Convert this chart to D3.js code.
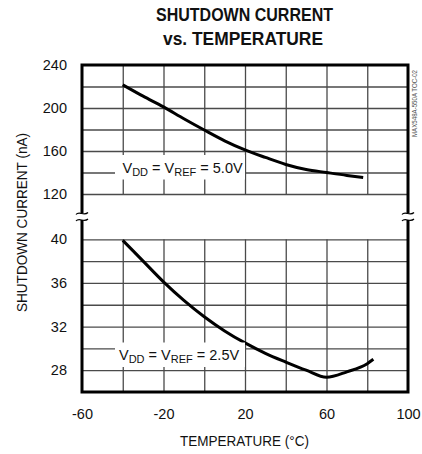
<!DOCTYPE html>
<html>
<head>
<meta charset="utf-8">
<script src="https://cdn.jsdelivr.net/npm/d3@7"></script>
<style>
  html, body { margin: 0; padding: 0; background: #fff; }
  svg text { font-family: Arial, "Liberation Sans", Helvetica, sans-serif; fill: #111; }
</style>
</head>
<body>
<div id="chart"></div>
<script>
// Shutdown current vs. temperature, two supply settings on a broken y axis
const temps5V = [-40, -30, -20, -10, 0, 10, 20, 30, 40, 50, 60, 70, 78]
const current5V = [221.6, 211, 201, 190, 179.5, 169.5, 161, 154, 147.5, 142.8, 140, 137.3, 135.4]

const temps25V = [-40, -30, -20, -10, 0, 10, 20, 30, 40, 50, 60, 70, 80, 83]
const current25V = [39.9, 38.0, 36.1, 34.4, 32.9, 31.6, 30.5, 29.55, 28.75, 28.0, 27.35, 27.85, 28.6, 29.0]

const xTicks = [-60, -20, 20, 60, 100]
const xGrid = [-40, -20, 0, 20, 40, 60, 80]
const topTicks = [120, 160, 200, 240]
const topGrid = [120, 140, 160, 180, 200, 220]
const bottomTicks = [28, 32, 36, 40]
const bottomGrid = [28, 30, 32, 34, 36, 38, 40]

const W = 422, H = 454
const plotLeft = 82, plotRight = 408
const plotTop = 65, topEnd = 194
const bottomStart = 239.3, plotBottom = 392

const svg = d3.select("#chart").append("svg")
  .attr("width", W)
  .attr("height", H)

const x = d3.scaleLinear().domain([-60, 100]).range([plotLeft, plotRight])
const yTop = d3.scaleLinear().domain([120, 240]).range([topEnd, plotTop])
const yBot = d3.scaleLinear().domain([26, 40]).range([plotBottom, bottomStart])

const gridColor = "#4a4a4a"

// Grid lines for each panel
function grid(yScale, hValues, y0, y1) {
  svg.append("g")
    .attr("transform", `translate(0,${y1})`)
    .call(d3.axisBottom(x).tickValues(xGrid).tickSize(-(y1 - y0)).tickFormat(""))
    .call(g => g.select(".domain").remove())
    .selectAll("line").attr("stroke", gridColor).attr("stroke-width", 1.3)

  svg.append("g")
    .attr("transform", `translate(${plotLeft},0)`)
    .call(d3.axisLeft(yScale).tickValues(hValues).tickSize(-(plotRight - plotLeft)).tickFormat(""))
    .call(g => g.select(".domain").remove())
    .selectAll("line").attr("stroke", gridColor).attr("stroke-width", 1.3)
}
grid(yTop, topGrid, plotTop, topEnd)
grid(yBot, bottomGrid, bottomStart, plotBottom)

// Tick labels (plain hyphen for negatives, like the datasheet)
const plain = d => String(d)
function styleLabels(g) {
  g.select(".domain").remove()
  g.selectAll("text").attr("font-size", 14.5).attr("fill", "#111")
    .style("font-family", "Arial, 'Liberation Sans', sans-serif")
}
svg.append("g")
  .attr("transform", `translate(${plotLeft},0)`)
  .call(d3.axisLeft(yTop).tickValues(topTicks).tickFormat(plain).tickSize(0).tickPadding(15))
  .call(styleLabels)
svg.append("g")
  .attr("transform", `translate(${plotLeft},0)`)
  .call(d3.axisLeft(yBot).tickValues(bottomTicks).tickFormat(plain).tickSize(0).tickPadding(15))
  .call(styleLabels)
svg.append("g")
  .attr("transform", `translate(0,${plotBottom})`)
  .call(d3.axisBottom(x).tickValues(xTicks).tickFormat(plain).tickSize(0).tickPadding(16.5))
  .call(styleLabels)

// Curves
const line5 = d3.line()
  .x((d, i) => x(temps5V[i]))
  .y(d => yTop(d))
  .curve(d3.curveMonotoneX)
const line25 = d3.line()
  .x((d, i) => x(temps25V[i]))
  .y(d => yBot(d))
  .curve(d3.curveMonotoneX)

svg.append("path")
  .datum(current5V)
  .attr("fill", "none")
  .attr("stroke", "#000")
  .attr("stroke-width", 3)
  .attr("stroke-linejoin", "round")
  .attr("d", line5)

svg.append("path")
  .datum(current25V)
  .attr("fill", "none")
  .attr("stroke", "#000")
  .attr("stroke-width", 3)
  .attr("stroke-linejoin", "round")
  .attr("d", line25)

// Curve labels on white boxes
function curveLabel(x0, baseline, volts) {
  svg.append("rect")
    .attr("x", 115).attr("y", baseline - 17.5)
    .attr("width", 130).attr("height", 24.5)
    .attr("fill", "#fff")
  const t = svg.append("text")
    .attr("x", x0).attr("y", baseline)
    .attr("font-size", 14.5)
  t.append("tspan").text("V")
  t.append("tspan").attr("font-size", 11).attr("dy", 3).text("DD")
  t.append("tspan").attr("dy", -3).text(" = V")
  t.append("tspan").attr("font-size", 11).attr("dy", 3).text("REF")
  t.append("tspan").attr("dy", -3).text(` = ${volts}`)
}
curveLabel(122.5, 172.5, "5.0V")
curveLabel(119, 360, "2.5V")

// Frame
svg.append("rect")
  .attr("x", plotLeft).attr("y", plotTop)
  .attr("width", plotRight - plotLeft).attr("height", plotBottom - plotTop)
  .attr("fill", "none")
  .attr("stroke", "#000")
  .attr("stroke-width", 3)

// Axis break marks
function breakMark(cx) {
  svg.append("rect")
    .attr("x", cx - 5).attr("y", 213.5)
    .attr("width", 10).attr("height", 6.5)
    .attr("fill", "#fff")
  ;[213.5, 220].forEach(cy => {
    svg.append("path")
      .attr("d", `M${cx - 6},${cy + 1} C${cx - 3},${cy - 3} ${cx + 2},${cy + 3} ${cx + 6},${cy - 1}`)
      .attr("fill", "none")
      .attr("stroke", "#000")
      .attr("stroke-width", 1.2)
  })
}
breakMark(plotLeft)
breakMark(plotRight)

// Titles
svg.append("text")
  .attr("x", 244.5).attr("y", 21)
  .attr("text-anchor", "middle")
  .attr("font-size", 18).attr("font-weight", "bold")
  .attr("textLength", 177).attr("lengthAdjust", "spacingAndGlyphs")
  .text("SHUTDOWN CURRENT")
svg.append("text")
  .attr("x", 243).attr("y", 45)
  .attr("text-anchor", "middle")
  .attr("font-size", 18).attr("font-weight", "bold")
  .attr("textLength", 160).attr("lengthAdjust", "spacingAndGlyphs")
  .text("vs. TEMPERATURE")

svg.append("text")
  .attr("x", 244.5).attr("y", 446)
  .attr("text-anchor", "middle")
  .attr("font-size", 15)
  .attr("textLength", 129).attr("lengthAdjust", "spacingAndGlyphs")
  .text("TEMPERATURE (°C)")

svg.append("text")
  .attr("transform", "translate(26.5,222.5) rotate(-90)")
  .attr("text-anchor", "middle")
  .attr("font-size", 14.5)
  .attr("textLength", 179).attr("lengthAdjust", "spacingAndGlyphs")
  .text("SHUTDOWN CURRENT (nA)")

svg.append("text")
  .attr("transform", "translate(416.5,103.5) rotate(-90)")
  .attr("text-anchor", "middle")
  .attr("font-size", 7)
  .style("fill", "#555")
  .attr("textLength", 67).attr("lengthAdjust", "spacingAndGlyphs")
  .text("MAX548A-550A TOC-02")
</script>
</body>
</html>
